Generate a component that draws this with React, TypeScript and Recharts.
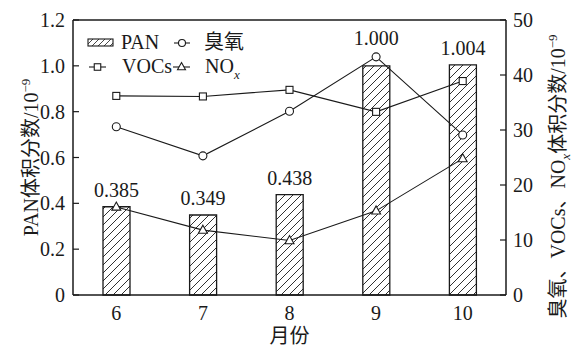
import React from 'react'
import {
  ComposedChart,
  Bar,
  Line,
  XAxis,
  YAxis,
  ReferenceLine,
  Legend,
  LabelList,
} from 'recharts'

// monthly means
const months = ['6', '7', '8', '9', '10']
const panValues = [0.385, 0.349, 0.438, 1.0, 1.004]
const ozoneValues = [30.6, 25.3, 33.4, 43.3, 29.1]
const vocsValues = [36.2, 36.1, 37.3, 33.3, 38.9]
const noxValues = [16.0, 11.8, 9.9, 15.3, 24.8]

const leftTicks = [0, 0.2, 0.4, 0.6, 0.8, 1.0, 1.2]
const rightTicks = [0, 10, 20, 30, 40, 50]

const chartData = months.map((month, i) => ({
  month,
  pan: panValues[i],
  ozone: ozoneValues[i],
  vocs: vocsValues[i],
  nox: noxValues[i],
}))

const FONT = '"Liberation Serif", "Times New Roman", "Noto Sans CJK SC", serif'
const INK = '#1a1a1a'

// marker shapes shared by lines and legend
const circleMark = (cx: number, cy: number, r = 4) => (
  <circle cx={cx} cy={cy} r={r} fill="#fff" stroke={INK} strokeWidth={1.1} />
)
const squareMark = (cx: number, cy: number, s = 7) => (
  <rect x={cx - s / 2} y={cy - s / 2} width={s} height={s} fill="#fff" stroke={INK} strokeWidth={1.1} />
)
const triangleMark = (cx: number, cy: number, s = 9) => (
  <path
    d={`M${cx},${cy - s * 0.55} L${cx + s / 2},${cy + s * 0.35} L${cx - s / 2},${cy + s * 0.35} Z`}
    fill="#fff"
    stroke={INK}
    strokeWidth={1.1}
  />
)

const makeDot = (shape: (cx: number, cy: number) => React.ReactElement) => (props: any) => (
  <g key={`dot-${props.index}`}>{shape(props.cx, props.cy)}</g>
)

// value above each bar; September is lifted clear of the ozone marker
const BarValueLabel = (props: any) => {
  const { x, y, width, value, index } = props
  const lift = index === 3 ? 21 : 10
  return (
    <text x={x + width / 2} y={y - lift} textAnchor="middle" style={{ fontFamily: FONT }} fontSize={20} fill={INK}>
      {Number(value).toFixed(3)}
    </text>
  )
}

const LeftTitle = (props: any) => {
  const { viewBox } = props
  const bx = viewBox.x + 38
  const cy = viewBox.y + viewBox.height / 2
  return (
    <text transform={`translate(${bx},${cy}) rotate(-90)`} textAnchor="middle" style={{ fontFamily: FONT }} fontSize={20} fill={INK}>
      PAN体积分数/10
      <tspan dy={-8} fontSize={13}>−9</tspan>
    </text>
  )
}

const RightTitle = (props: any) => {
  const { viewBox } = props
  const bx = viewBox.x + 59
  const cy = viewBox.y + viewBox.height / 2 + 19
  return (
    <text transform={`translate(${bx},${cy}) rotate(-90)`} textAnchor="middle" style={{ fontFamily: FONT }} fontSize={20} fill={INK}>
      臭氧、VOCs、NO
      <tspan dy={5} fontSize={13} fontStyle="italic">x</tspan>
      <tspan dy={-5}>体积分数/10</tspan>
      <tspan dy={-8} fontSize={13}>−9</tspan>
    </text>
  )
}

const ChartLegend = () => (
  <svg width={200} height={52} style={{ overflow: 'visible' }}>
    <defs>
      <pattern id="hatch-legend" patternUnits="userSpaceOnUse" width={6} height={6}>
        <path d="M0,6 L6,0 M-1,1 L1,-1 M5,7 L7,5" stroke={INK} strokeWidth={0.8} />
      </pattern>
    </defs>
    <g style={{ fontFamily: FONT }} fontSize={20} fill={INK}>
      <rect x={8} y={11} width={25} height={7} fill="url(#hatch-legend)" stroke={INK} strokeWidth={1.1} />
      <text x={41} y={21}>PAN</text>

      <line x1={94} x2={110} y1={15} y2={15} stroke={INK} strokeWidth={1.1} />
      {circleMark(102, 15, 3.5)}
      <text x={124} y={21}>臭氧</text>

      <line x1={9} x2={26} y1={39} y2={39} stroke={INK} strokeWidth={1.1} />
      {squareMark(17.5, 39, 6.5)}
      <text x={42} y={45}>VOCs</text>

      <line x1={93} x2={110} y1={39} y2={39} stroke={INK} strokeWidth={1.1} />
      {triangleMark(101.5, 39, 8)}
      <text x={125} y={45}>
        NO
        <tspan dy={6} fontSize={13} fontStyle="italic">x</tspan>
      </text>
    </g>
  </svg>
)

const tickStyle = { fill: INK, fontSize: 20, fontFamily: FONT, style: { fontFamily: FONT } }

export default function App() {
  return (
    <div
      style={{
        position: 'absolute',
        left: 0,
        top: 0,
        width: 574,
        height: 347,
        background: '#fff',
        fontFamily: FONT,
      }}
    >
      <ComposedChart
        width={574}
        height={347}
        data={chartData}
        margin={{ top: 20, right: 0, bottom: 0, left: 0 }}
        style={{ fontFamily: FONT }}
      >
        <defs>
          <pattern id="hatch" patternUnits="userSpaceOnUse" width={8} height={8}>
            <path d="M0,8 L8,0 M-1,1 L1,-1 M7,9 L9,7" stroke={INK} strokeWidth={0.9} />
          </pattern>
        </defs>

        <XAxis
          dataKey="month"
          height={52}
          axisLine={{ stroke: INK, strokeWidth: 1.5 }}
          tickLine={false}
          tickMargin={5}
          tick={tickStyle}
          interval={0}
          label={{ value: '月份', position: 'insideBottom', offset: 4, fill: INK, fontSize: 20, fontFamily: FONT }}
        />
        <YAxis
          yAxisId="left"
          width={73}
          domain={[0, 1.2]}
          ticks={leftTicks}
          interval={0}
          tickFormatter={(v: number) => (v === 0 ? '0' : v.toFixed(1))}
          axisLine={{ stroke: INK, strokeWidth: 1.5 }}
          tickLine={{ stroke: INK, strokeWidth: 1.2 }}
          tickSize={-6}
          tickMargin={14}
          tick={tickStyle}
          label={<LeftTitle />}
        />
        <YAxis
          yAxisId="right"
          orientation="right"
          width={68}
          domain={[0, 50]}
          ticks={rightTicks}
          interval={0}
          axisLine={{ stroke: INK, strokeWidth: 1.5 }}
          tickLine={{ stroke: INK, strokeWidth: 1.2 }}
          tickSize={-6}
          tickMargin={13}
          tick={{ ...tickStyle, textAnchor: 'start' }}
          label={<RightTitle />}
        />

        {/* top edge of the frame */}
        <ReferenceLine yAxisId="left" y={1.2} stroke={INK} strokeWidth={1.5} />

        <Legend
          layout="vertical"
          align="center"
          verticalAlign="middle"
          content={<ChartLegend />}
          wrapperStyle={{ position: 'absolute', left: 80, top: 28, width: 200, height: 52 }}
        />

        <Bar
          yAxisId="left"
          dataKey="pan"
          name="PAN"
          barSize={27}
          fill="url(#hatch)"
          stroke={INK}
          strokeWidth={1.3}
          isAnimationActive={false}
        >
          <LabelList dataKey="pan" content={<BarValueLabel />} />
        </Bar>

        <Line
          yAxisId="right"
          dataKey="ozone"
          name="臭氧"
          stroke={INK}
          strokeWidth={1.1}
          dot={makeDot((x, y) => circleMark(x, y))}
          activeDot={false}
          isAnimationActive={false}
        />
        <Line
          yAxisId="right"
          dataKey="vocs"
          name="VOCs"
          stroke={INK}
          strokeWidth={1.1}
          dot={makeDot((x, y) => squareMark(x, y))}
          activeDot={false}
          isAnimationActive={false}
        />
        <Line
          yAxisId="right"
          dataKey="nox"
          name="NOx"
          stroke={INK}
          strokeWidth={1.1}
          dot={makeDot((x, y) => triangleMark(x, y))}
          activeDot={false}
          isAnimationActive={false}
        />
      </ComposedChart>
    </div>
  )
}
